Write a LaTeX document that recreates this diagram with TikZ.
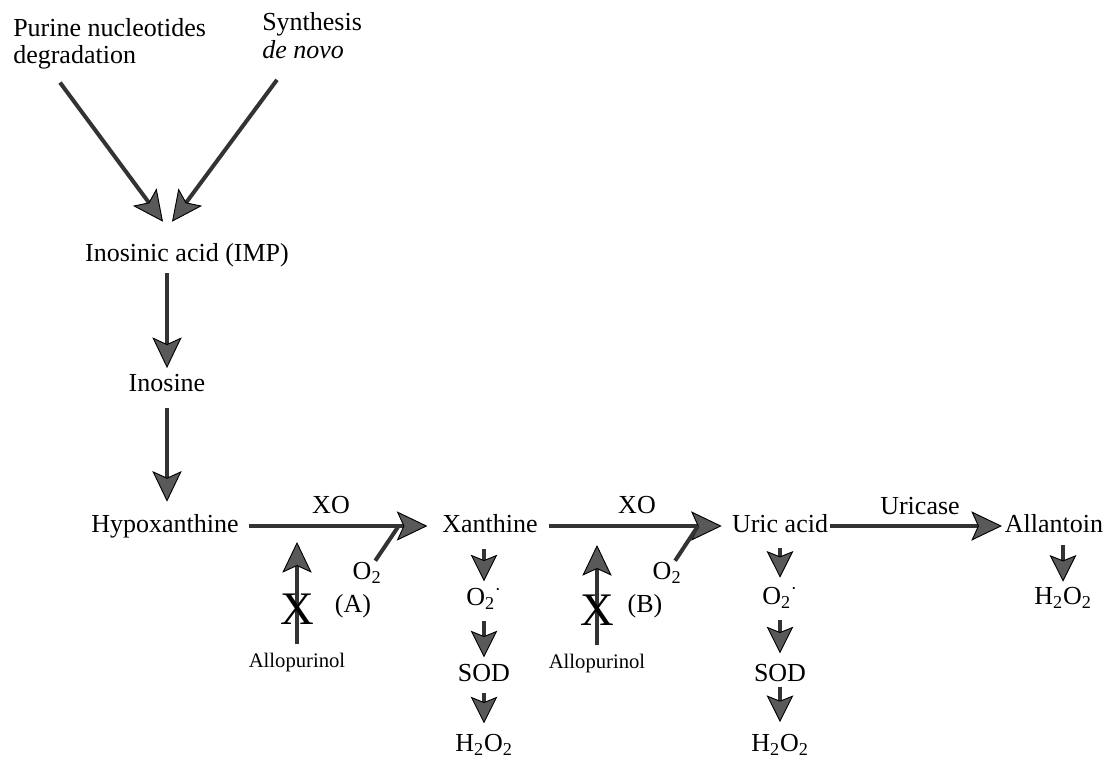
\documentclass[tikz,border=0pt]{standalone}
\usepackage{fontspec}
\setmainfont{Liberation Serif}
\usetikzlibrary{arrows.meta,calc}
\begin{document}
\begin{tikzpicture}[x=0.75pt,y=-0.75pt,
  lbl/.style={inner sep=0pt, font=\fontsize{19.5}{17.5}\selectfont, text height=14pt, text depth=4pt},
  head/.style={inner sep=0pt, align=left},
  small/.style={inner sep=0pt, font=\fontsize{15.5}{16}\selectfont, text height=11pt, text depth=3pt},
  bigx/.style={inner sep=0pt, font=\fontsize{35}{35}\selectfont},
  flow/.style={line width=3pt, draw=black!80,
    -{Stealth[length=23pt,width=22pt,inset=5pt,fill=black!65,color=black,line width=0.7pt]}},
  drop/.style={line width=3pt, draw=black!80,
    -{Stealth[length=20pt,width=20pt,inset=4pt,fill=black!65,color=black,line width=0.7pt]}},
  side/.style={line width=3pt, draw=black!80},
]
\useasboundingbox (0,0) rectangle (1106,759);

% sources
\node[head, anchor=north west, font=\fontsize{19.5}{20.5}\selectfont] (pur) at (13,18) {Purine nucleotides\\degradation};
\node[head, anchor=north west, font=\fontsize{19.5}{21}\selectfont] (syn) at (262,12) {Synthesis\\\textit{de novo}};

% main pathway
\node[lbl] (imp) at (187,255) {Inosinic acid (IMP)};
\node[lbl] (ino) at (167,385) {Inosine};
\node[lbl] (hyp) at (165,526) {Hypoxanthine};
\node[lbl] (xan) at (490,526) {Xanthine};
\node[lbl] (uric) at (780,526) {Uric acid};
\node[lbl] (all) at (1054,526) {Allantoin};

% enzyme labels
\node[lbl] (xo1) at (331,507) {XO};
\node[lbl] (xo2) at (637,507) {XO};
\node[lbl] (uri) at (920,508) {Uricase};

% oxygen inputs
\node[lbl] (oxA) at (367,573) {O\textsubscript{2}};
\node[lbl] (oxB) at (667,573) {O\textsubscript{2}};
\coordinate (jA) at (398,527);
\coordinate (jB) at (698,526);

% products below xanthine
\node[lbl] (xs1) at (484,599) {O\textsubscript{2}\textsuperscript{·}};
\node[lbl] (xs2) at (484,675) {SOD};
\node[lbl] (xs3) at (484,745) {H\textsubscript{2}O\textsubscript{2}};
% products below uric acid
\node[lbl] (us1) at (780,598) {O\textsubscript{2}\textsuperscript{·}};
\node[lbl] (us2) at (780,675) {SOD};
\node[lbl] (us3) at (780,745) {H\textsubscript{2}O\textsubscript{2}};
% product below allantoin
\node[lbl] (as1) at (1063,598) {H\textsubscript{2}O\textsubscript{2}};

% allopurinol inhibition
\node[small] (alA) at (297,662) {Allopurinol};
\node[small] (alB) at (597,663) {Allopurinol};
\coordinate (tA) at (297,542);
\coordinate (tB) at (597,545);
\node[lbl] (labA) at (353,606) {(A)};
\node[lbl] (labB) at (645,606) {(B)};

% arrows
\draw[flow] ($(pur.south west)+(47,13)$) -- ($(imp.north)+(-24,-21)$);
\draw[flow] ($(syn.south west)+(15,21)$) -- ($(imp.north)+(-15,-21)$);
\draw[flow, shorten <=4.5pt, shorten >=3.5pt] (imp.south -| ino) -- (ino.north);
\draw[flow, shorten <=8pt, shorten >=9pt] (ino.south) -- (ino |- hyp.north);

\draw[flow, shorten <=7.5pt, shorten >=11pt] (hyp) -- (xan);
\draw[flow, shorten <=8pt, shorten >=7.5pt] (xan) -- (uric);
\draw[flow, shorten <=1.5pt, shorten >=2pt] (uric) -- (all);

\draw[side] (oxA) -- (jA);
\draw[side] (oxB) -- (jB);

\draw[drop, shorten <=8pt, shorten >=4pt] (xan.south -| xs1) -- (xs1.north);
\draw[drop, shorten <=7.5pt, shorten >=4pt] (xs1.south) -- (xs2.north);
\draw[drop, shorten <=4pt, shorten >=7pt] (xs2.south) -- (xs3.north);

\draw[drop, shorten <=7.5pt, shorten >=6pt] (uric.south) -- (us1.north);
\draw[drop, shorten <=7.5pt, shorten >=7pt] (us1.south) -- (us2.north);
\draw[drop, shorten <=0pt, shorten >=8pt] (us2.south) -- (us3.north);

\draw[drop, shorten <=5pt, shorten >=3pt] (all.south -| as1) -- (as1.north);

\draw[flow, line width=2.6pt, shorten <=6pt] (alA.north) -- (tA);
\draw[flow, line width=2.6pt, shorten <=6pt] (alB.north) -- (tB);
\node[bigx] (xA) at (297,609) {X};
\node[bigx] (xB) at (597,610) {X};
\end{tikzpicture}
\end{document}
